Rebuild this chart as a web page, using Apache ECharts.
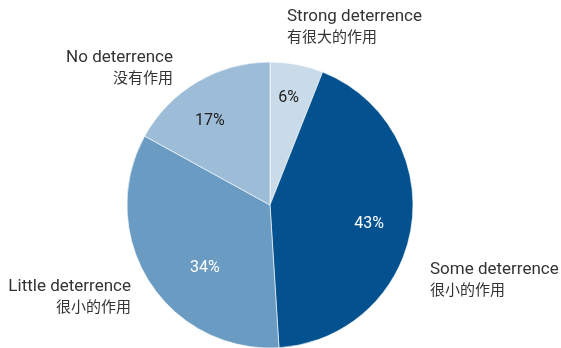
<!DOCTYPE html>
<html>
<head>
<meta charset="utf-8">
<script src="https://cdn.jsdelivr.net/npm/echarts@6/dist/echarts.min.js"></script>
<style>
 html, body { margin: 0; padding: 0; background: #fff; }
 #chart { width: 561px; height: 348px; }
</style>
</head>
<body>
<div id="chart"></div>
<script>
 // 威慑作用
 var names = ['Strong deterrence', 'Some deterrence', 'Little deterrence', 'No deterrence'];
 var namesCn = ['有很大的作用', '很小的作用', '很小的作用', '没有作用'];
 var values = [6, 43, 34, 17];
 var colors = ['#c9dbe8', '#03528f', '#6a9bc2', '#9dbcd7'];
 var pctColors = ['#222222', '#ffffff', '#ffffff', '#222222'];

 // 外部标签的位置
 var labelPos = [
     {x: 287, y: 7, align: 'left'},
     {x: 430, y: 260, align: 'left'},
     {x: 131, y: 277, align: 'right'},
     {x: 173, y: 48, align: 'right'}
 ];
 // 百分比标签的微调
 var pctShift = [[-1, -4], [-4, 3], [23, 7], [-7, 6]];

 var pieData = [];
 var pctData = [];
 for (var i = 0; i < values.length; i++) {
     pieData.push({
         name: names[i],
         value: values[i],
         itemStyle: { color: colors[i] },
         label: { align: labelPos[i].align }
     });
     pctData.push({
         name: names[i],
         value: values[i],
         label: { color: pctColors[i] }
     });
 }

 var chart = echarts.init(document.getElementById('chart'));
 chart.setOption({
     animation: false,
     series: [{
         type: 'pie',
         center: [270, 205],
         radius: [0, 143],
         startAngle: 90,
         clockwise: true,
         silent: true,
         itemStyle: { borderColor: '#ffffff', borderWidth: 0.6 },
         label: {
             show: true,
             position: 'outside',
             overflow: 'none',
             color: '#333333',
             formatter: function (d) {
                 return '{en|' + d.name + '}\n{cn|' + namesCn[d.dataIndex] + '}';
             },
             rich: {
                 en: { fontFamily: 'Roboto', fontSize: 17, lineHeight: 20, color: '#333333' },
                 cn: { fontFamily: 'Noto Sans CJK SC', fontSize: 15, lineHeight: 18, color: '#333333' }
             }
         },
         labelLine: { show: false },
         labelLayout: function (p) {
             var lp = labelPos[p.dataIndex];
             return { x: lp.x, y: lp.y, align: lp.align, verticalAlign: 'top', moveOverlap: false };
         },
         data: pieData
     }, {
         type: 'pie',
         center: [270, 205],
         radius: [60, 143],
         startAngle: 90,
         clockwise: true,
         silent: true,
         itemStyle: { color: 'rgba(0,0,0,0)' },
         label: {
             show: true,
             position: 'inside',
             fontFamily: 'Roboto',
             fontSize: 16,
             formatter: '{c}%'
         },
         labelLine: { show: false },
         labelLayout: function (p) {
             var s = pctShift[p.dataIndex];
             return { dx: s[0], dy: s[1] };
         },
         data: pctData
     }]
 });
</script>
</body>
</html>
